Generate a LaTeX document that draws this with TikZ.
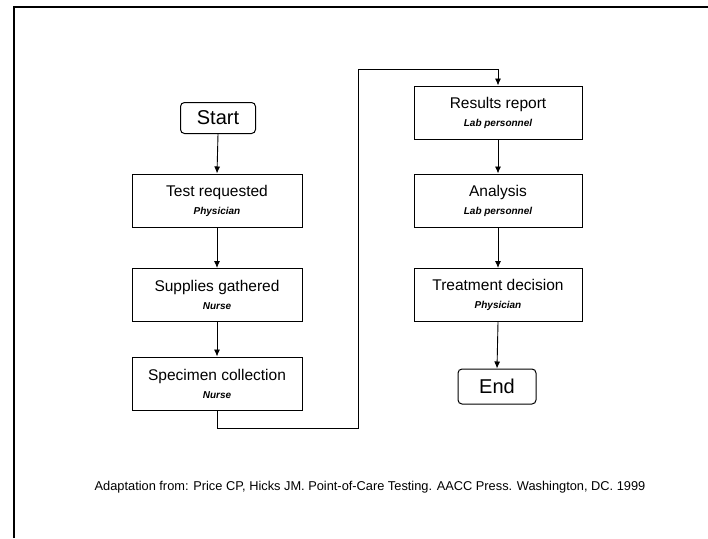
\documentclass[tikz,border=0pt]{standalone}
\usepackage{fontspec}
\setmainfont{Liberation Sans}
\usetikzlibrary{arrows.meta}
\newcommand{\who}[1]{\\[1pt]{\fontsize{10}{12}\selectfont\bfseries\itshape #1}}

\begin{document}
\begin{tikzpicture}
                        [
                            x=1pt, y=-1pt,
                            square/.style = {draw, shape=rectangle, minimum height=53pt, minimum width=170pt, line width=1pt, align=center, inner sep=2pt, font=\fontsize{15.5}{17}\selectfont},
                            terminal/.style = {draw, shape=rectangle, rounded corners=4pt, minimum height=31pt, line width=1pt, font=\fontsize{20}{22}\selectfont},
                            link/.style = {-{Latex[length=7pt,width=6pt]}, line width=0.9pt},
                        ]

                        \useasboundingbox (0,0) rectangle (708,538);
                        \draw [line width=2pt] (14,538) -- (14,7) -- (708,7);

                        \node[terminal, minimum width=75pt] (start) at (218,118)     {Start};

                        \node[square] (b1) at (217,200.5)     {Test requested\who{Physician}};
                        \node[square] (b2) at (217,295)     {Supplies gathered\who{Nurse}};
                        \node[square] (b3) at (217,383.5)     {Specimen collection\who{Nurse}};

                        \node[square, minimum width=168pt] (b4) at (498,112.5)   {Results report\who{Lab personnel}};
                        \node[square, minimum width=168pt] (b5) at (498,200.5)   {Analysis\who{Lab personnel}};
                        \node[square, minimum width=168pt] (b6) at (498,295)   {Treatment decision\who{Physician}};

                        \node[terminal, minimum width=78pt, minimum height=35pt] (fin) at (497,386.5)   {End};

                        \coordinate (k1) at (358,428);
                        \coordinate (k2) at (358,69);

                        \draw [link] (start.south) -- (b1.north);
                        \draw [link] (b1.south) -- (b2.north);
                        \draw [link] (b2.south) -- (b3.north);
                        \draw [link] (b3.south) |- (k1) -- (k2) -| (b4.north);
                        \draw [link] (b4.south) -- (b5.north);
                        \draw [link] (b5.south) -- (b6.north);
                        \draw [link] (b6.south) -- (fin.north);

                        \node[font=\fontsize{12.8}{15}\selectfont] (src) at (370,487) {Adaptation from: Price CP, Hicks JM. Point-of-Care Testing. AACC Press. Washington, DC. 1999};

                    \end{tikzpicture}
\end{document}
